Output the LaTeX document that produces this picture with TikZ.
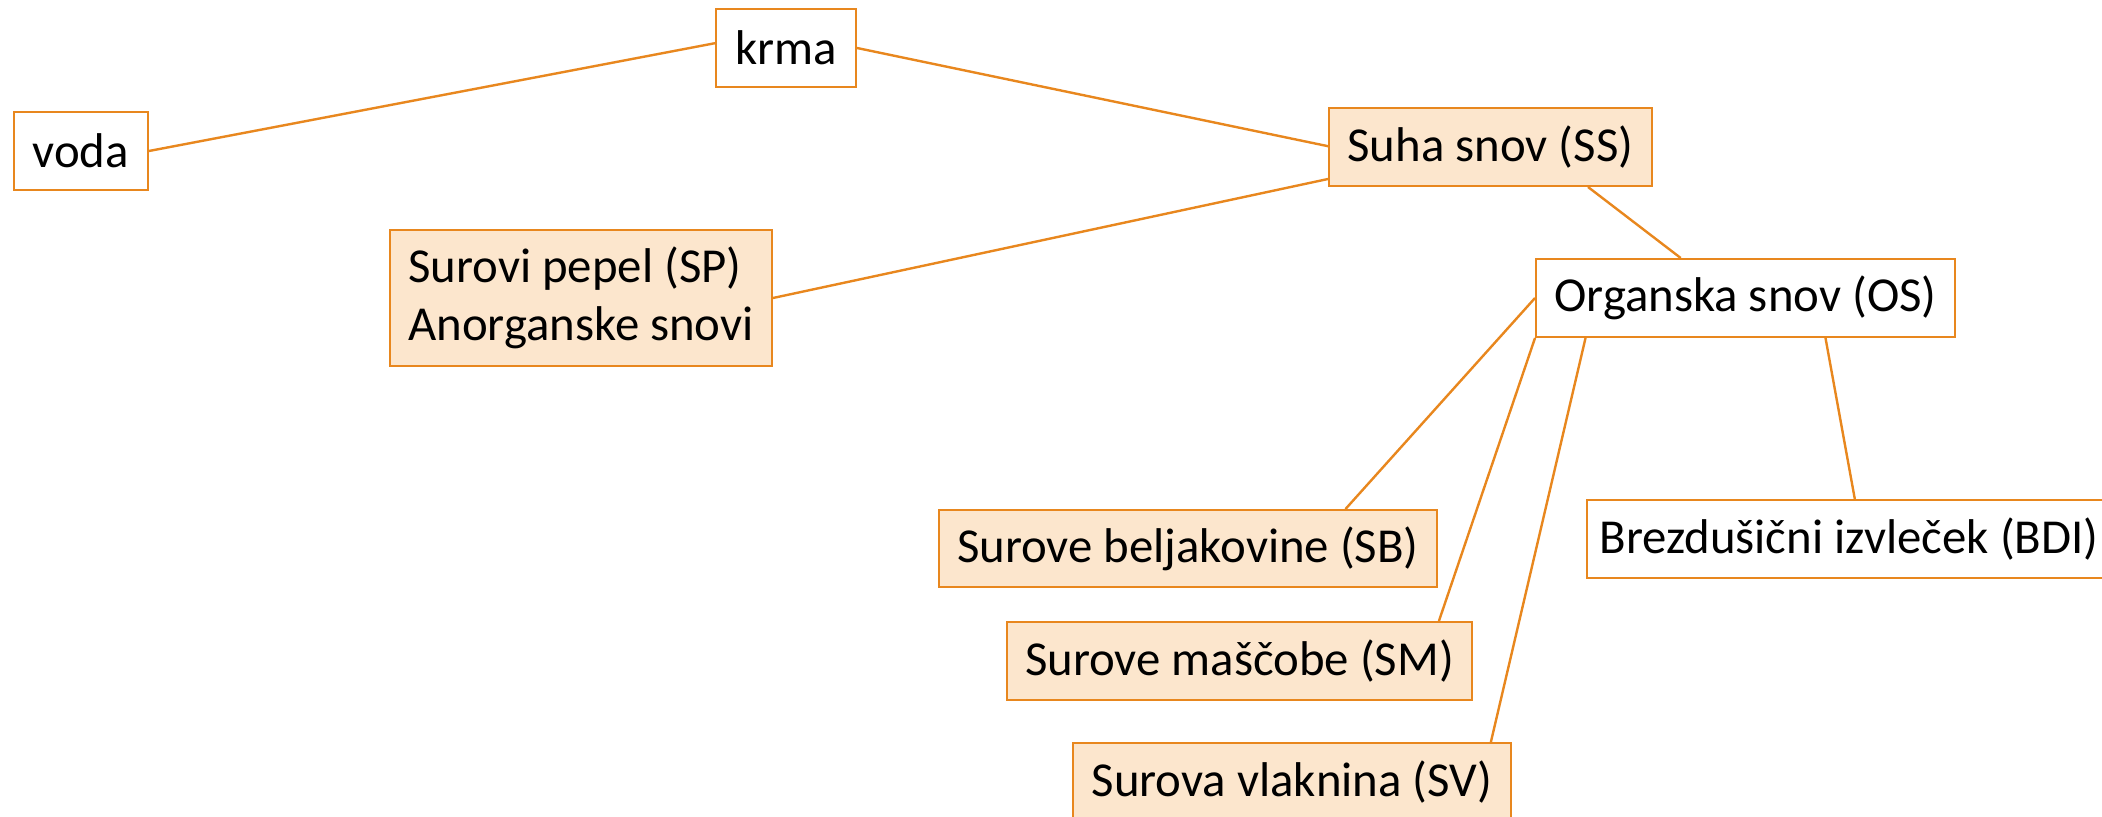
\documentclass[tikz,border=0pt]{standalone}
\usepackage{fontspec}
\setmainfont{Carlito}
\usetikzlibrary{calc}
\definecolor{lineor}{HTML}{E8871E}
\definecolor{fillor}{HTML}{FCE6CD}
\begin{document}
\begin{tikzpicture}[x=0.5pt,y=-0.5pt,
  box/.style={draw=lineor, line width=1pt, rectangle, inner sep=0pt, anchor=north west,
    font=\fontsize{24.4}{29}\selectfont, text=black, minimum height=39pt},
  plainbox/.style={box, fill=white},
  tintbox/.style={box, fill=fillor},
  link/.style={draw=lineor, line width=1.2pt}]
\useasboundingbox (0,0) rectangle (2102,817);
\node[plainbox, minimum width=67.2pt] (voda) at (12.6,111) {voda};
\node[plainbox, minimum width=70pt] (krma) at (715,8) {krma};
\node[tintbox, minimum width=191pt, minimum height=68pt, align=left] (sp) at (389,229) {Surovi pepel (SP)\\Anorganske snovi};
\node[tintbox, minimum width=161.5pt] (ss) at (1328,107) {Suha snov (SS)};
\node[plainbox, minimum width=209.5pt] (os) at (1535,258) {Organska snov (OS)};
\node[tintbox, minimum width=249pt, minimum height=38.5pt] (sb) at (938,509) {Surove beljakovine (SB)};
\node[tintbox, minimum width=232.5pt] (sm) at (1006,621) {Surove maščobe (SM)};
\node[tintbox, minimum width=219pt] (sv) at (1072,742) {Surova vlaknina (SV)};
\node[plainbox, minimum width=262pt] (bdi) at (1586,499) {Brezdušični izvleček (BDI)};
\draw[link] (voda.east) -- ($(krma.north west)!0.44!(krma.south west)$);
\draw[link] (krma.east) -- ($(ss.north west)!0.49!(ss.south west)$);
\draw[link] (sp.east) -- ($(ss.north west)!0.90!(ss.south west)$);
\draw[link] ($(ss.south west)!0.80!(ss.south east)$) -- ($(os.north west)!0.346!(os.north east)$);
\draw[link] (os.west) -- ($(sb.north west)!0.815!(sb.north east)$);
\draw[link] (os.south west) -- ($(sm.north west)!0.927!(sm.north east)$);
\draw[link] ($(os.south west)!0.12!(os.south east)$) -- ($(sv.north west)!0.952!(sv.north east)$);
\draw[link] ($(os.south west)!0.69!(os.south east)$) -- ($(bdi.north west)!0.511!(bdi.north east)$);
\end{tikzpicture}
\end{document}
